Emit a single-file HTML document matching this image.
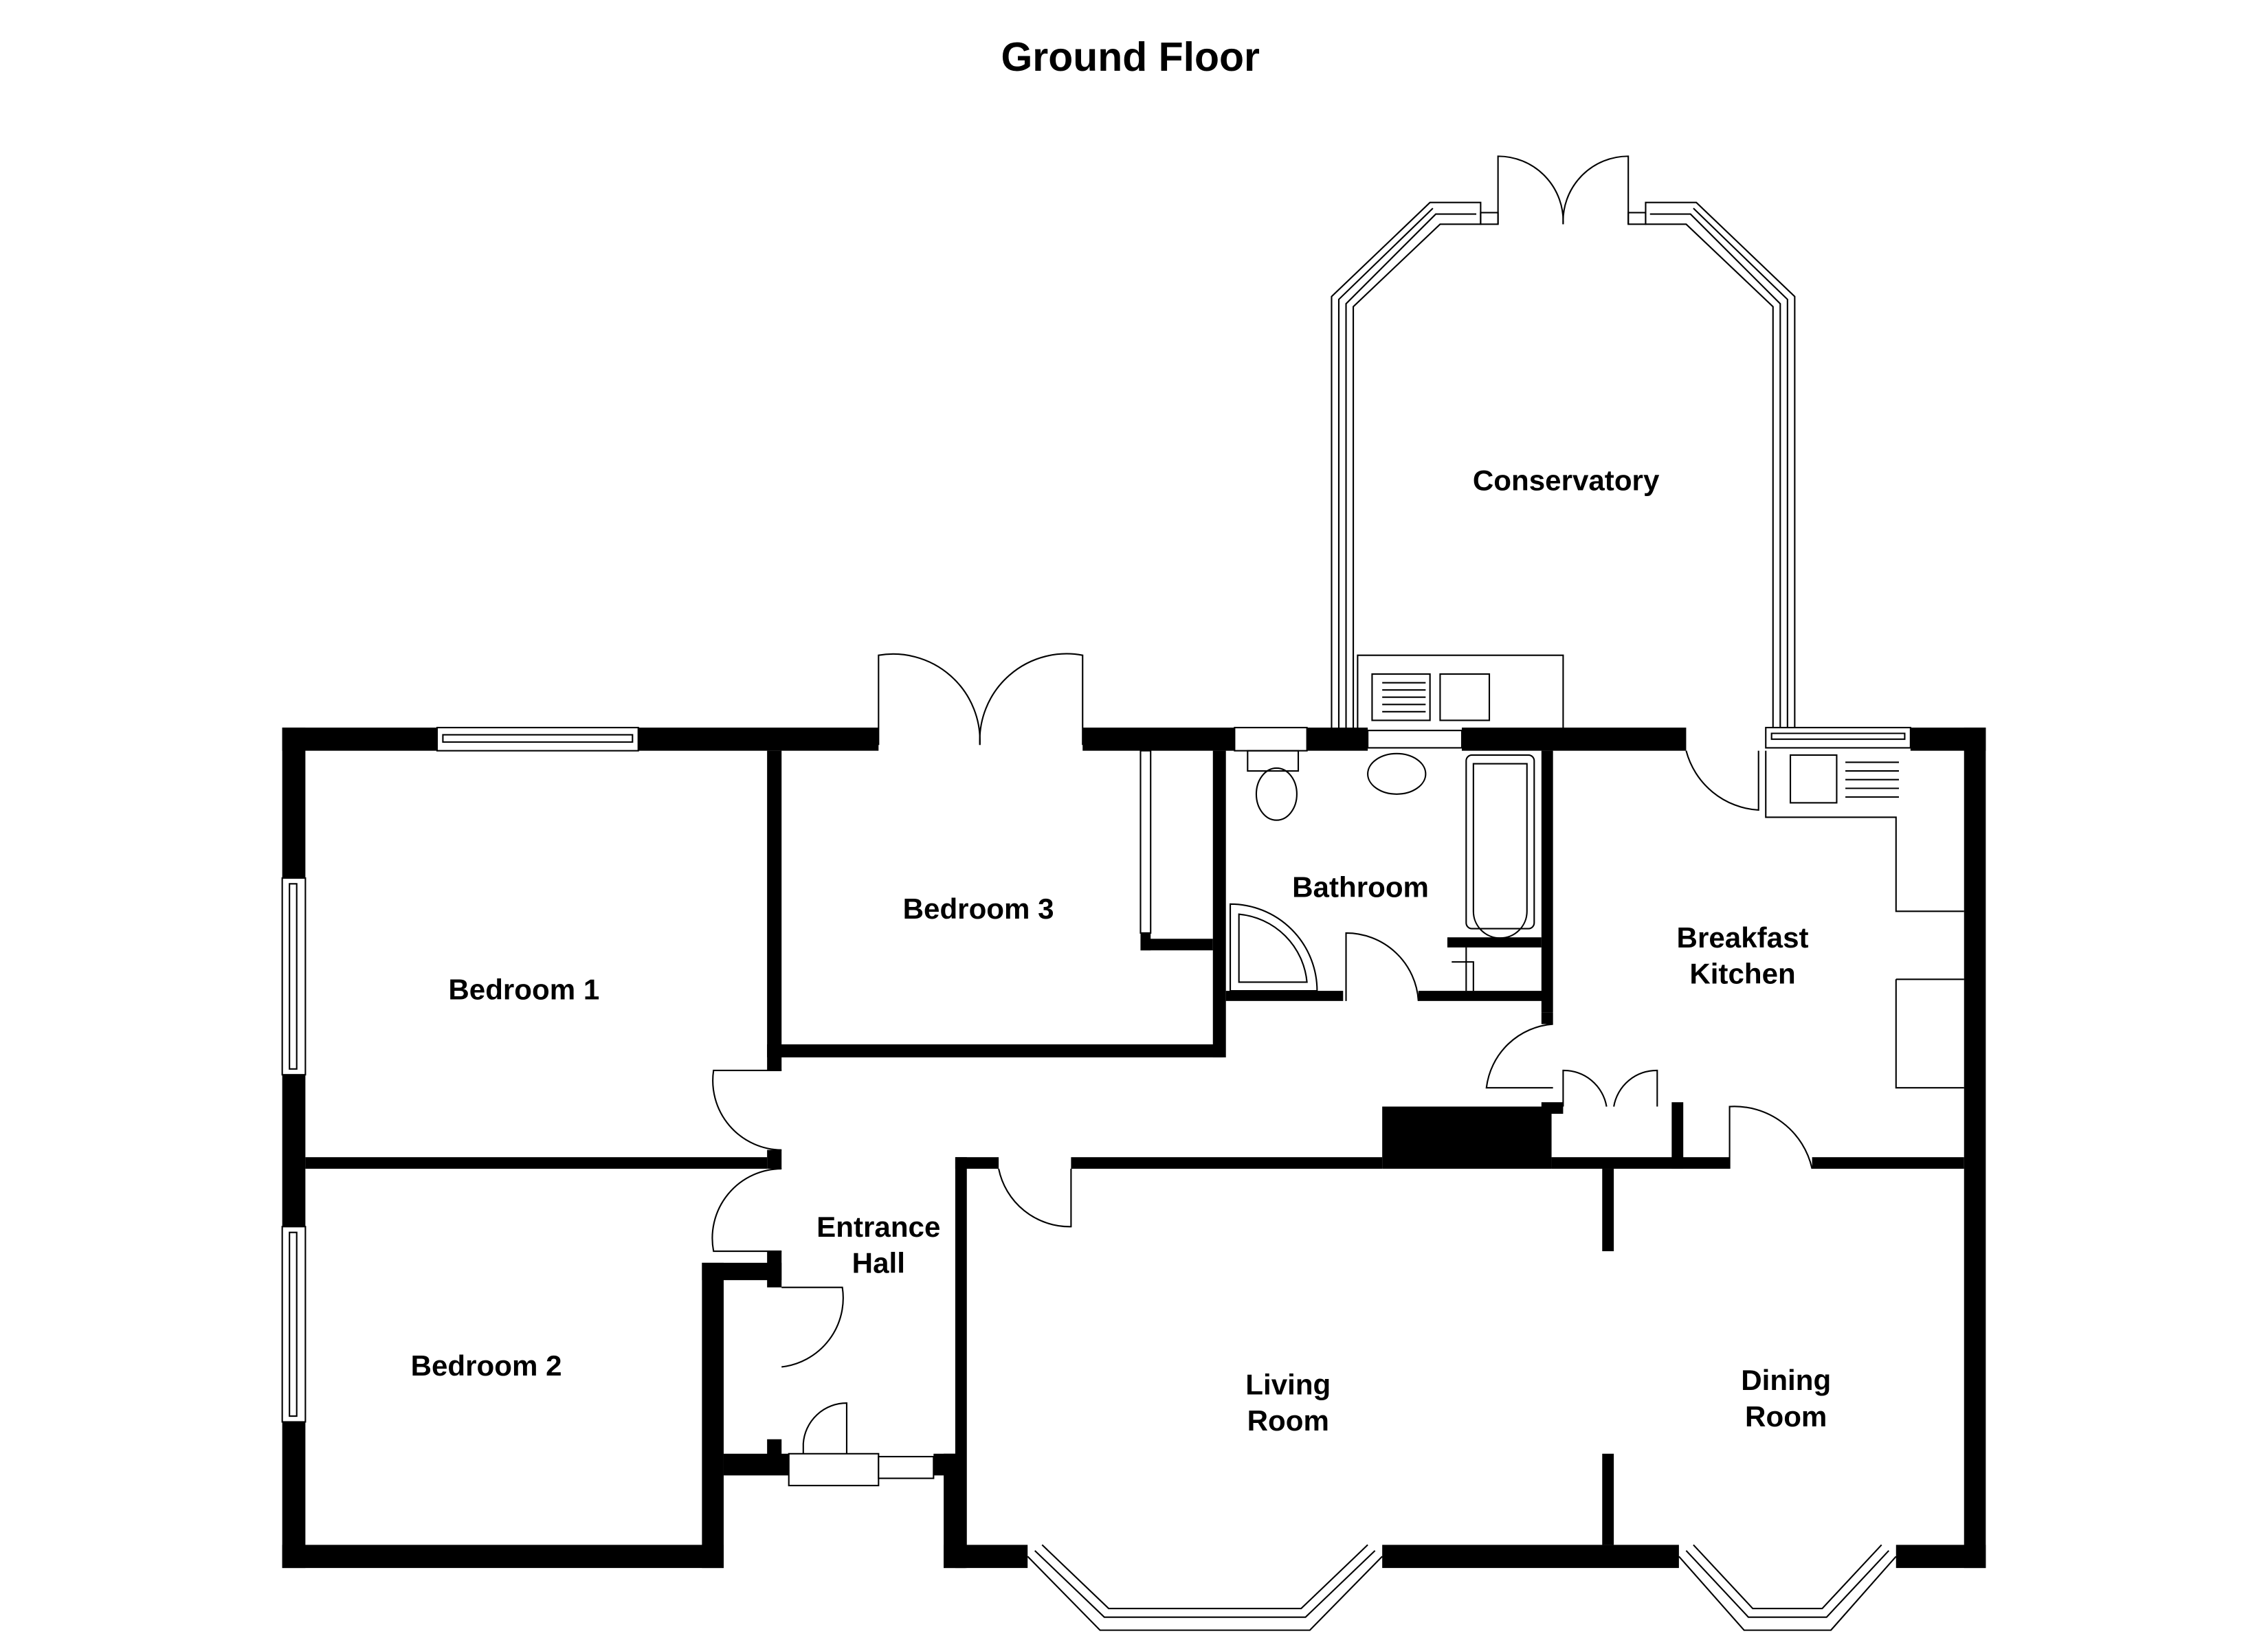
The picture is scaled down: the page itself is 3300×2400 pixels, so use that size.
<!DOCTYPE html>
<html><head><meta charset="utf-8"><style>
html,body{margin:0;padding:0;background:#fff;}
svg{display:block;}
text{font-family:"Liberation Sans",Arial,sans-serif;font-weight:bold;fill:#000;}
</style></head><body>
<svg width="3300" height="2400" viewBox="0 0 1567 1140" preserveAspectRatio="none" xmlns="http://www.w3.org/2000/svg">
<rect x="0" y="0" width="1567" height="1140" fill="#fff"/>
<text x="781" y="49" font-size="28" text-anchor="middle">Ground Floor</text>

<!-- Conservatory -->
<g fill="none" stroke="#000" stroke-width="1">
<path d="M920 503 V205 L988 140 H1023 V155 H995 L935 212 V503"/>
<path d="M925 503 V207 L990 144"/>
<path d="M930 503 V210 L992 148 H1020"/>
<path d="M1240 503 V205 L1172 140 H1137 V155 H1165 L1225 212 V503"/>
<path d="M1235 503 V207 L1170 144"/>
<path d="M1230 503 V210 L1168 148 H1140"/>
<rect x="1023" y="147" width="12" height="8"/><rect x="1125" y="147" width="12" height="8"/>
<path d="M1035 155 V108 A45 45 0 0 1 1080 155"/>
<path d="M1125 155 V108 A45 45 0 0 0 1080 155"/>
<path d="M938 503 V453 H1080 V503"/>
<rect x="948" y="466" width="40" height="32"/>
<rect x="995" y="466" width="34" height="32"/>
<path d="M955 472H985M955 477H985M955 482H985M955 487H985M955 492H985"/>
</g>

<g fill="#000">
<rect x="195" y="503" width="107" height="16"/>
<rect x="441" y="503" width="166" height="16"/>
<rect x="748" y="503" width="105" height="16"/>
<rect x="903" y="503" width="42" height="16"/>
<rect x="1010" y="503" width="155" height="16"/>
<rect x="1320" y="503" width="52" height="16"/>
<rect x="195" y="503" width="16" height="104"/>
<rect x="195" y="743" width="16" height="105"/>
<rect x="195" y="983" width="16" height="101"/>
<rect x="195" y="1068" width="305" height="16"/>
<rect x="485" y="873" width="15" height="211"/>
<rect x="485" y="873" width="55" height="12"/>
<rect x="500" y="1005" width="45" height="15"/>
<rect x="645" y="1005" width="22" height="15"/>
<rect x="652" y="1005" width="15" height="79"/>
<rect x="652" y="1068" width="58" height="16"/>
<rect x="955" y="1068" width="205" height="16"/>
<rect x="1310" y="1068" width="62" height="16"/>
<rect x="1357" y="503" width="15" height="581"/>
<rect x="211" y="800" width="319" height="8"/>
<rect x="530" y="519" width="10" height="221"/>
<rect x="530" y="795" width="10" height="13"/>
<rect x="530" y="722" width="315" height="9"/>
<rect x="838" y="519" width="9" height="212"/>
<rect x="788" y="645" width="7" height="12"/>
<rect x="788" y="649" width="50" height="8"/>
<rect x="847" y="685" width="81" height="7"/>
<rect x="980" y="685" width="92" height="7"/>
<rect x="1065" y="519" width="8" height="181"/>
<rect x="1000" y="648" width="65" height="7"/>
<rect x="530" y="865" width="10" height="25"/>
<rect x="530" y="995" width="10" height="15"/>
<rect x="660" y="800" width="30" height="8"/>
<rect x="660" y="800" width="8" height="284"/>
<rect x="740" y="800" width="215" height="8"/>
<rect x="955" y="765" width="117" height="43"/>
<rect x="1072" y="800" width="123" height="8"/>
<rect x="1155" y="762" width="8" height="46"/>
<rect x="1065" y="700" width="8" height="8"/>
<rect x="1065" y="762" width="15" height="8"/>
<rect x="1252" y="800" width="105" height="8"/>
<rect x="1107" y="808" width="8" height="57"/>
<rect x="1107" y="1005" width="8" height="63"/>
</g>

<g fill="#fff" stroke="#000" stroke-width="1">
<rect x="302" y="503" width="139" height="16"/><path d="M306 508H437V513H306Z"/>
<rect x="853" y="503" width="50" height="16"/>
<rect x="945" y="505" width="65" height="12"/>
<rect x="1220" y="503" width="100" height="14"/><path d="M1224 507H1316V511H1224Z"/>
<rect x="195" y="607" width="16" height="136"/><path d="M200 611V739H205V611Z"/>
<rect x="195" y="848" width="16" height="135"/><path d="M200 852V979H205V852Z"/>
<rect x="545" y="1005" width="62" height="22"/>
<rect x="607" y="1007" width="38" height="15"/>
<rect x="788" y="519" width="7" height="126"/>
</g>

<g fill="none" stroke="#000" stroke-width="1">
<path d="M710 1076 L760 1127 H905 L955 1076"/>
<path d="M715 1072 L763 1118 H902 L950 1072"/>
<path d="M720 1068 L766 1112 H899 L945 1068"/>
<path d="M1160 1076 L1205 1127 H1265 L1310 1076"/>
<path d="M1165 1072 L1208 1118 H1262 L1305 1072"/>
<path d="M1170 1068 L1211 1112 H1259 L1300 1068"/>
</g>

<g fill="none" stroke="#000" stroke-width="1">
<path d="M607 515 V453 A60 60 0 0 1 677 515"/>
<path d="M748 515 V453 A60 60 0 0 0 677 515"/>
<path d="M1165 519 A55 55 0 0 0 1215 560 V519"/>
<path d="M540 740 H493 A48 48 0 0 0 540 795"/>
<path d="M540 808 A48 48 0 0 0 493 865 H540"/>
<path d="M690 808 A50 50 0 0 0 740 848 V808"/>
<path d="M930 692 V645 A50 50 0 0 1 980 692"/>
<path d="M1073 708 A50 50 0 0 0 1027 752 H1073"/>
<path d="M1080 765 V740 A30 30 0 0 1 1110 765 M1145 765 V740 A30 30 0 0 0 1115 765"/>
<path d="M1195 808 V765 A55 55 0 0 1 1252 808"/>
<path d="M540 890 H582 A48 48 0 0 1 540 945"/>
<path d="M555 1005 V998 A30 30 0 0 1 585 970 V1005"/>
<path d="M1013 655 V685 M1003 665 H1018 V685"/>
<path d="M1220 519 V565 H1310 V630 H1357"/>
<rect x="1237" y="522" width="32" height="33"/>
<path d="M1275 527H1312M1275 533H1312M1275 539H1312M1275 545H1312M1275 551H1312"/>
<path d="M1310 677 H1357 M1310 677 V752 H1357"/>
<rect x="862" y="519" width="35" height="14"/>
<ellipse cx="882" cy="549" rx="14" ry="18"/>
<ellipse cx="965" cy="535" rx="20" ry="14"/>
<rect x="1013" y="522" width="47" height="120" rx="4"/>
<path d="M1018 528 H1055 V630 A18 18 0 0 1 1018 630 Z"/>
<path d="M850 625 A60 60 0 0 1 910 685 H850 Z"/>
<path d="M856 632 A52 52 0 0 1 903 679 H856 Z"/>
</g>

<g font-size="20" text-anchor="middle">
<text x="1082" y="339">Conservatory</text>
<text x="676" y="635">Bedroom 3</text>
<text x="940" y="620">Bathroom</text>
<text x="362" y="691">Bedroom 1</text>
<text x="1204" y="655">Breakfast</text>
<text x="1204" y="680">Kitchen</text>
<text x="607" y="855">Entrance</text>
<text x="607" y="880">Hall</text>
<text x="336" y="951">Bedroom 2</text>
<text x="890" y="964">Living</text>
<text x="890" y="989">Room</text>
<text x="1234" y="961">Dining</text>
<text x="1234" y="986">Room</text>
</g>
</svg>
</body></html>
